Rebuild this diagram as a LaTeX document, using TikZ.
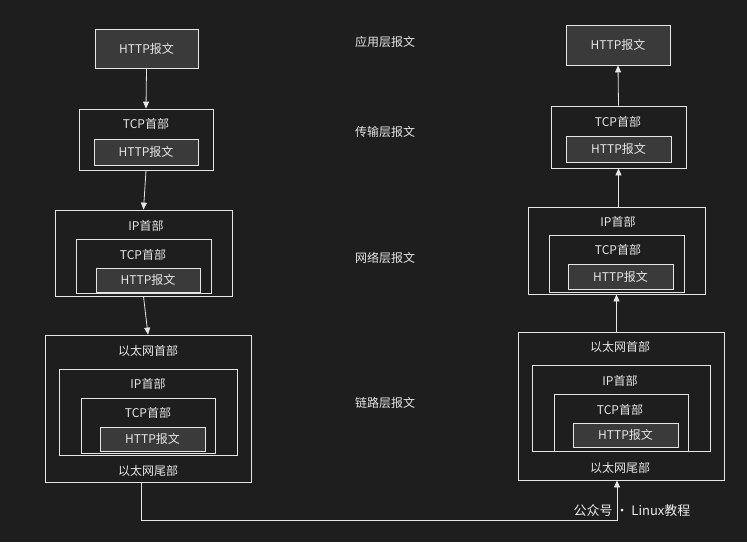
\documentclass[tikz,border=0pt]{standalone}
\usepackage{fontspec}
\setmainfont{Noto Sans CJK SC}
\usetikzlibrary{arrows.meta}
\definecolor{bgc}{HTML}{1E1E1E}
\definecolor{fgc}{HTML}{E6E6E6}
\definecolor{boxc}{HTML}{3A3A3A}
\tikzset{
  frame/.style={draw=fgc,line width=0.8pt,inner sep=0pt},
  msgbox/.style={frame,fill=boxc},
  lbl/.style={text=fgc,font=\fontsize{12}{14}\selectfont,inner sep=0.75pt},
  flow/.style={draw=fgc,line width=0.8pt,-{Triangle[length=7pt,width=6pt]}}
}
\newcommand{\rbox}[6]{% name, x1,y1,x2,y2, style
  \node[#6,minimum width=#4-#2,minimum height=#5-#3] (#1) at ({(#2+#4)/2},{(#3+#5)/2}) {};}
\begin{document}
\begin{tikzpicture}[x=1pt,y=-1pt]
\useasboundingbox[fill=bgc] (0,0) rectangle (747,542);

% left column
\rbox{lh}{95}{29}{198}{68}{msgbox}
\node[lbl] at (lh) {HTTP报文};
\rbox{lt}{79}{109}{213}{170}{frame}
\node[lbl] at (146,124) {TCP首部};
\rbox{lth}{94}{139}{198}{165}{msgbox}
\node[lbl] at (lth) {HTTP报文};
\rbox{li}{55}{210}{232}{296}{frame}
\node[lbl] at (146,226) {IP首部};
\rbox{lit}{76}{239}{211}{293}{frame}
\node[lbl] at (143,255) {TCP首部};
\rbox{lih}{96}{268}{200}{292}{msgbox}
\node[lbl] at (lih) {HTTP报文};
\rbox{le}{45}{335}{251}{482}{frame}
\node[lbl] at (148,351) {以太网首部};
\rbox{lei}{59}{369}{237}{455}{frame}
\node[lbl] at (148,384) {IP首部};
\rbox{let}{81}{398}{215}{453}{frame}
\node[lbl] at (148,413) {TCP首部};
\rbox{leh}{100}{427}{205}{451}{msgbox}
\node[lbl] at (leh) {HTTP报文};
\node[lbl] at (148,471) {以太网尾部};

\draw[flow] (lh.south) -- (lt.north);
\draw[flow] (lt.south) -- (li.north);
\draw[flow] (li.south) -- (le.north);

% layer labels
\node[lbl] (app) at (385,42) {应用层报文};
\node[lbl] (tra) at (385,132) {传输层报文};
\node[lbl] (net) at (385,258) {网络层报文};
\node[lbl] (lnk) at (385,403) {链路层报文};

% right column
\rbox{rh}{566}{25}{670}{65}{msgbox}
\node[lbl] at (rh) {HTTP报文};
\rbox{rt}{551}{106}{686}{168}{frame}
\node[lbl] at (618,122) {TCP首部};
\rbox{rth}{566}{136}{671}{162}{msgbox}
\node[lbl] at (rth) {HTTP报文};
\rbox{ri}{528}{207}{705}{294}{frame}
\node[lbl] at (618,222) {IP首部};
\rbox{rit}{549}{235}{684}{292}{frame}
\node[lbl] at (618,250) {TCP首部};
\rbox{rih}{568}{264}{673}{289}{msgbox}
\node[lbl] at (rih) {HTTP报文};
\rbox{re}{518}{332}{724}{480}{frame}
\node[lbl] at (620,347) {以太网首部};
\rbox{rei}{532}{365}{710}{451}{frame}
\node[lbl] at (620,381) {IP首部};
\rbox{ret}{554}{394}{688}{451}{frame}
\node[lbl] at (620,410) {TCP首部};
\rbox{reh}{573}{423}{678}{447}{msgbox}
\node[lbl] at (reh) {HTTP报文};
\node[lbl] at (620,468) {以太网尾部};

\draw[flow] (rt.north) -- (rh.south);
\draw[flow] (ri.north -| rt.south) -- (rt.south);
\draw[flow] (re.north -| ri.south) -- (ri.south);

% link between hosts
\coordinate (dl) at (141,520);
\coordinate (dr) at (617,520);
\draw[flow] (dl |- le.south) -- (dl) -- (dr) -- (dr |- re.south);

% watermark
\node[text=fgc!70,font=\fontsize{13}{15}\selectfont] (wm) at (632,511) {公众号 · Linux教程};
\end{tikzpicture}
\end{document}
